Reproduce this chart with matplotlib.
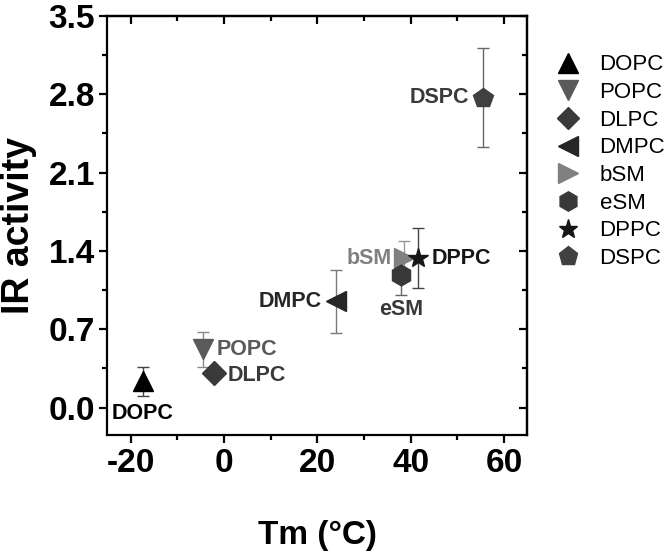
import matplotlib
matplotlib.use("Agg")
import matplotlib.pyplot as plt
from matplotlib.ticker import MultipleLocator, FormatStrFormatter

plt.rcParams['font.family'] = ['Liberation Sans', 'DejaVu Sans']
plt.rcParams['axes.unicode_minus'] = False

# Data
lipids = ["DOPC", "POPC", "DLPC", "DMPC", "bSM", "eSM", "DPPC", "DSPC"]
tm = [-17.4, -4.5, -2.1, 24.0, 38.6, 38.0, 41.5, 55.4]
ir = [0.235, 0.52, 0.31, 0.95, 1.335, 1.185, 1.335, 2.77]
ir_err = [0.13, 0.16, 0.04, 0.28, 0.15, 0.18, 0.27, 0.44]

# Styles
markers = ['^', 'v', 'D', '<', '>', 'h', '*', 'p']
msizes = [15, 15, 12, 15, 15, 15, 15, 15]
colors = ['#000000', '#5a5a5a', '#3a3a3a', '#262626', '#808080', '#383838', '#161616', '#404040']
ecolors = ['#444444', '#8a8a8a', '#666666', '#7a7a7a', '#999999', '#666666', '#444444', '#666666']
label_colors = ['#000000', '#5a5a5a', '#3a3a3a', '#262626', '#808080', '#383838', '#161616', '#3a3a3a']
# text offsets (points) and alignment
offsets = [(0, -23), (10, 0), (10, -2), (-10, 0), (-9, 0), (0, -25), (10, 0), (-10, 0)]
haligns = ['center', 'left', 'left', 'right', 'right', 'center', 'left', 'right']

fig = plt.figure(figsize=(6.64, 5.56), dpi=100)
ax = fig.add_axes([0.1616, 0.2176, 0.6326, 0.7536])

for i, name in enumerate(lipids):
    ax.errorbar(tm[i], ir[i], yerr=ir_err[i], fmt=markers[i], ms=msizes[i],
                color=colors[i], mec=colors[i], ecolor=ecolors[i],
                elinewidth=1.0, capsize=4, capthick=1.0, label=name, zorder=3)
    ax.annotate(name, (tm[i], ir[i]), xytext=offsets[i], textcoords='offset points',
                ha=haligns[i], va='center', fontsize=15.5, fontweight='bold',
                color=label_colors[i])

ax.set_xlim(-25, 65)
ax.set_ylim(-0.245, 3.5)
ax.xaxis.set_major_locator(MultipleLocator(20))
ax.xaxis.set_minor_locator(MultipleLocator(10))
ax.yaxis.set_major_locator(MultipleLocator(0.7))
ax.yaxis.set_minor_locator(MultipleLocator(0.35))
ax.yaxis.set_major_formatter(FormatStrFormatter('%.1f'))

for sp in ax.spines.values():
    sp.set_linewidth(1.6)

ax.tick_params(axis='both', which='major', direction='out', length=6, width=1.6,
               labelsize=24, pad=3)
ax.tick_params(axis='both', which='minor', direction='out', length=3.5, width=1.6)
for lab in ax.get_xticklabels() + ax.get_yticklabels():
    lab.set_fontweight('bold')

sec_x = ax.secondary_xaxis('top')
sec_x.xaxis.set_major_locator(MultipleLocator(20))
sec_x.xaxis.set_minor_locator(MultipleLocator(10))
sec_x.tick_params(which='major', direction='in', length=6, width=1.6, labeltop=False)
sec_x.tick_params(which='minor', direction='in', length=3.5, width=1.6)
sec_x.spines['top'].set_linewidth(1.6)

sec_y = ax.secondary_yaxis('right')
sec_y.yaxis.set_major_locator(MultipleLocator(0.7))
sec_y.yaxis.set_minor_locator(MultipleLocator(0.35))
sec_y.tick_params(which='major', direction='in', length=6, width=1.6, labelright=False)
sec_y.tick_params(which='minor', direction='in', length=3.5, width=1.6)
sec_y.spines['right'].set_linewidth(1.6)

ax.set_xlabel('Tm (°C)', fontsize=24, fontweight='bold', labelpad=30)
ax.set_ylabel('IR activity', fontsize=27, fontweight='bold', labelpad=8)

leg_handles = []
for i, name in enumerate(lipids):
    l, = ax.plot([], [], linestyle='none', marker=markers[i], ms=msizes[i] - 1,
                 color=colors[i], label=name)
    leg_handles.append(l)
fig.legend(handles=leg_handles, labels=lipids, loc='upper left',
           bbox_to_anchor=(0.836, 0.902), frameon=False, fontsize=16,
           handlelength=1.2, handletextpad=0.8, labelspacing=0.3,
           borderpad=0, borderaxespad=0)

fig.savefig('out.png', dpi=100)
